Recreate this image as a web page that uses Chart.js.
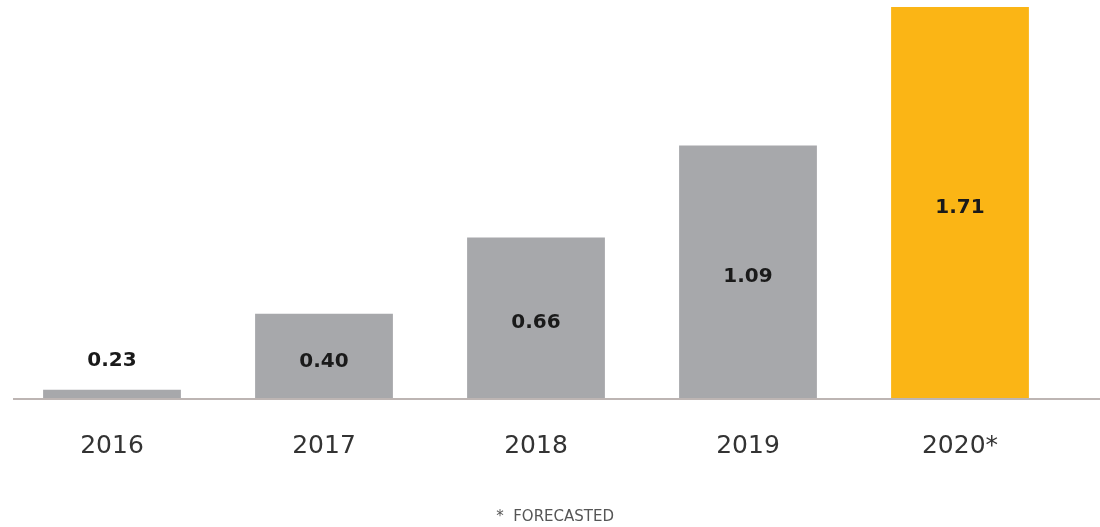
<!DOCTYPE html>
<html>
<head>
<meta charset="utf-8">
<script src="https://cdn.jsdelivr.net/npm/chart.js@4"></script>
<style>
  html, body { margin: 0; padding: 0; background: #fff; }
  #wrap { width: 1100px; height: 527px; }
</style>
</head>
<body>
<div id="wrap"><canvas id="myChart" width="1100" height="527"></canvas></div>
<script>
// chart data
const years = ['2016', '2017', '2018', '2019', '2020*'];
// bar heights as drawn in the picture (the picture is not to scale)
const barHeights = [0.04, 0.372, 0.704, 1.106, 1.71];
// values printed on the bars
const valueLabels = ['0.23', '0.40', '0.66', '1.09', '1.71'];
const barColors = ['#a7a8ab', '#a7a8ab', '#a7a8ab', '#a7a8ab', '#fbb515'];
const footnote = '        *  FORECASTED';

// baseline across the whole width
const baseLine = {
    id: 'baseLine',
    afterDatasetsDraw(chart) {
        const ctx = chart.ctx;
        const y = chart.scales.y.getPixelForValue(0);
        ctx.save();
        ctx.strokeStyle = '#bdb5b3';
        ctx.lineWidth = 2;
        ctx.beginPath();
        ctx.moveTo(13, y);
        ctx.lineTo(chart.width, y);
        ctx.stroke();
        ctx.restore();
    }
};

// value labels on / above each bar
const barLabels = {
    id: 'barLabels',
    afterDatasetsDraw(chart) {
        const ctx = chart.ctx;
        const meta = chart.getDatasetMeta(0);
        ctx.save();
        ctx.font = 'bold 20px "DejaVu Sans"';
        ctx.fillStyle = '#1a1a1a';
        ctx.textAlign = 'center';
        ctx.textBaseline = 'middle';
        meta.data.forEach((bar, i) => {
            const h = bar.base - bar.y;
            let y = h < 40 ? bar.y - 29 : (bar.y + bar.base) / 2 + 5;
            ctx.fillText(valueLabels[i], bar.x, y);
        });
        ctx.restore();
    }
};

const ctx = document.getElementById('myChart').getContext('2d');
const myChart = new Chart(ctx, {
    type: 'bar',
    data: {
        labels: years,
        datasets: [{
            data: barHeights,
            backgroundColor: barColors,
            borderWidth: 0,
            barPercentage: 0.65,
            categoryPercentage: 1
        }]
    },
    options: {
        responsive: false,
        animation: false,
        layout: { padding: { left: 6, right: 34, top: 0, bottom: 0 } },
        plugins: {
            legend: { display: false },
            tooltip: { enabled: false },
            title: {
                display: true,
                position: 'bottom',
                text: footnote,
                color: '#555',
                font: { family: 'DejaVu Sans', size: 15, weight: 'normal' },
                padding: { top: 23, bottom: 1 }
            }
        },
        scales: {
            x: {
                grid: { display: false },
                border: { display: false },
                ticks: {
                    color: '#333',
                    font: { family: 'DejaVu Sans', size: 25 },
                    padding: 24,
                    callback: function (v, i) { return years[i]; }
                }
            },
            y: {
                display: false,
                min: 0,
                max: 1.74
            }
        }
    },
    plugins: [baseLine, barLabels]
});
</script>
</body>
</html>
